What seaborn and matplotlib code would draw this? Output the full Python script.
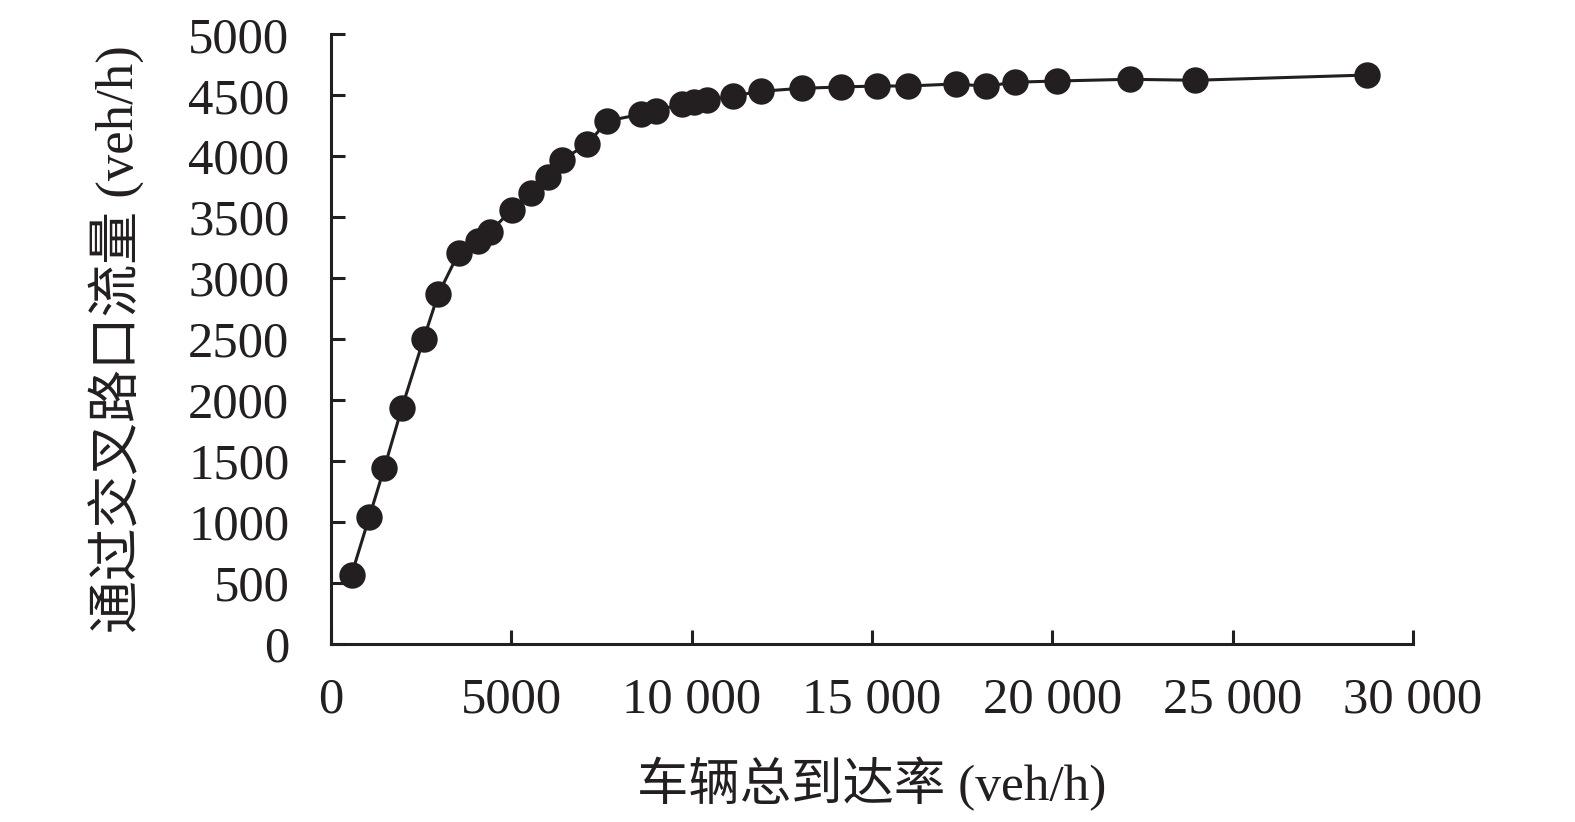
import matplotlib
matplotlib.use("Agg")
import matplotlib.pyplot as plt
import seaborn as sns
import pandas as pd

arrival_rate = [570, 1060, 1477, 1968, 2569, 2974, 3539, 4066, 4415, 5008, 5543, 6023,
                6394, 7104, 7658, 8592, 9000, 9720, 10069, 10413, 11150, 11918, 13054,
                14135, 15152, 16001, 17342, 18154, 18958, 20130, 22154, 23966, 28733]
throughput = [568, 1041, 1443, 1939, 2502, 2868, 3207, 3302, 3382, 3560, 3702, 3828,
              3970, 4098, 4289, 4344, 4374, 4426, 4448, 4459, 4494, 4533, 4557,
              4568, 4576, 4576, 4593, 4574, 4607, 4617, 4631, 4623, 4666]
x_ticks = [0, 5000, 10000, 15000, 20000, 25000, 30000]
x_tick_labels = ["0", "5000", "10 000", "15 000", "20 000", "25 000", "30 000"]
y_ticks = [0, 500, 1000, 1500, 2000, 2500, 3000, 3500, 4000, 4500, 5000]
x_label = "车辆总到达率 (veh/h)"
y_label = "通过交叉路口流量 (veh/h)"

sns.set_style("ticks")
fam = ["Liberation Serif", "Noto Sans CJK SC", "DejaVu Sans"]
plt.rcParams["font.family"] = fam

df = pd.DataFrame({"x": arrival_rate, "y": throughput})
fig = plt.figure(figsize=(15.75, 8.22), dpi=100)
ax = fig.add_axes([331/1575, 1-644/822, (1413-331)/1575, (644-34.3)/822])
col = "#231f20"
sns.lineplot(data=df, x="x", y="y", ax=ax, color=col, linewidth=2.2, marker="o",
             markersize=19, markeredgewidth=0, sort=False)

ax.set_xlim(0, 30000)
ax.set_ylim(0, 5000)
ax.set_xticks(x_ticks)
ax.set_xticklabels(x_tick_labels)
ax.set_yticks(y_ticks)
ax.set_yticklabels([str(v) for v in y_ticks])
for s in ["top", "right"]:
    ax.spines[s].set_visible(False)
for s in ["left", "bottom"]:
    ax.spines[s].set_linewidth(2.2)
    ax.spines[s].set_color(col)
ax.tick_params(axis="both", direction="in", length=10, width=2.2, colors=col,
               labelsize=36.5, labelcolor=col)
ax.tick_params(axis="x", pad=24)
ax.tick_params(axis="y", pad=30)
ax.set_xlabel(x_label, fontsize=37, color=col, labelpad=24, family=fam)
ax.set_ylabel(y_label, fontsize=38, color=col, labelpad=31, family=fam)
fig.savefig("out.png", dpi=100)
